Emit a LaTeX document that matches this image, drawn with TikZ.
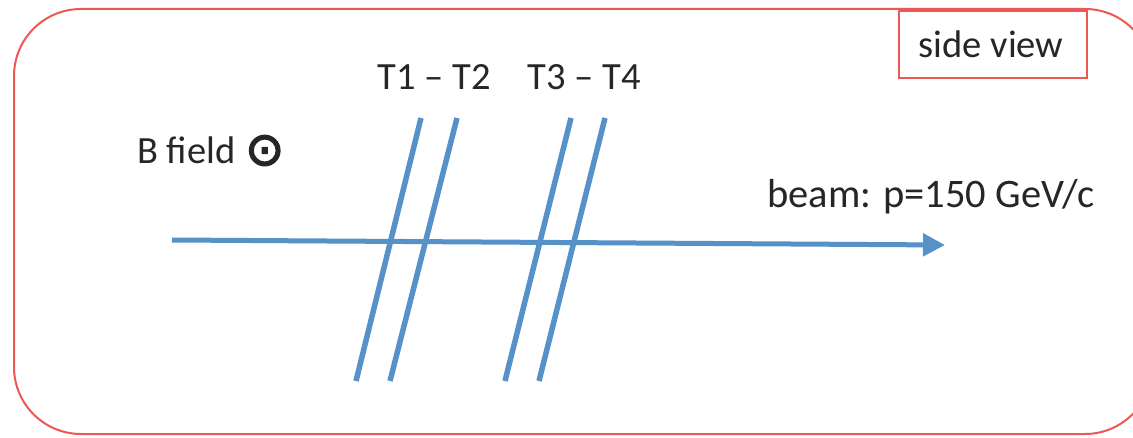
\documentclass[tikz,border=0pt]{standalone}
\usepackage{fontspec}
\setmainfont{Carlito}
\newfontfamily\symfont{DejaVu Sans}
\usetikzlibrary{arrows.meta}
\definecolor{frame}{RGB}{238,88,84}
\definecolor{trk}{RGB}{86,145,200}
\tikzset{
  lbl/.style={inner sep=0pt, font=\fontsize{38.5}{44}\selectfont, text=black!85},
  track/.style={draw=trk, line width=5.5pt, line cap=butt},
  beamline/.style={draw=trk, line width=5pt, -{Triangle[length=22pt,width=22pt]}}
}
\begin{document}
\begin{tikzpicture}[x=1pt,y=-1pt]
\useasboundingbox (0,0) rectangle (1133,438);
\fill[white] (0,0) rectangle (1133,438);
% outer frame (right side runs past the picture edge)
\begin{scope}
\clip (0,0) rectangle (1133,438);
\draw[frame, line width=2pt, rounded corners=67pt] (14,9) rectangle (1152,434);
\end{scope}
% side view box
\node[lbl, draw=frame, line width=1.8pt, minimum width=188pt, minimum height=67pt, anchor=north west] (sv) at (898,10) {};
\node[lbl, anchor=base] (svt) at (991,58) {side view};
% tracker planes
\coordinate (t1a) at (421,118); \coordinate (t1b) at (356,381);
\coordinate (t2a) at (457,118); \coordinate (t2b) at (390,381);
\coordinate (t3a) at (571,118); \coordinate (t3b) at (505,381);
\coordinate (t4a) at (605,118); \coordinate (t4b) at (539,381);
\draw[track] (t1a) -- (t1b);
\draw[track] (t2a) -- (t2b);
\draw[track] (t3a) -- (t3b);
\draw[track] (t4a) -- (t4b);
% beam
\coordinate (b0) at (172,240);
\coordinate (b1) at (945,245);
\draw[beamline] (b0) -- (b1);
% labels
\node[lbl, anchor=base] (l12) at (434,90) {T1 – T2};
\node[lbl, anchor=base] (l34) at (584,90) {T3 – T4};
\node[lbl, anchor=base west] (bf) at (137,164) {B field\hspace{10pt}{\symfont\fontsize{46}{46}\selectfont\special{pdf:code 2 Tr 1.6 w}\raisebox{-1pt}{⊙}\special{pdf:code 0 Tr}}};
\node[lbl, anchor=base west, font=\fontsize{40.5}{46}\selectfont] (bm) at (767,208) {beam: p=150 GeV/c};
\end{tikzpicture}
\end{document}
